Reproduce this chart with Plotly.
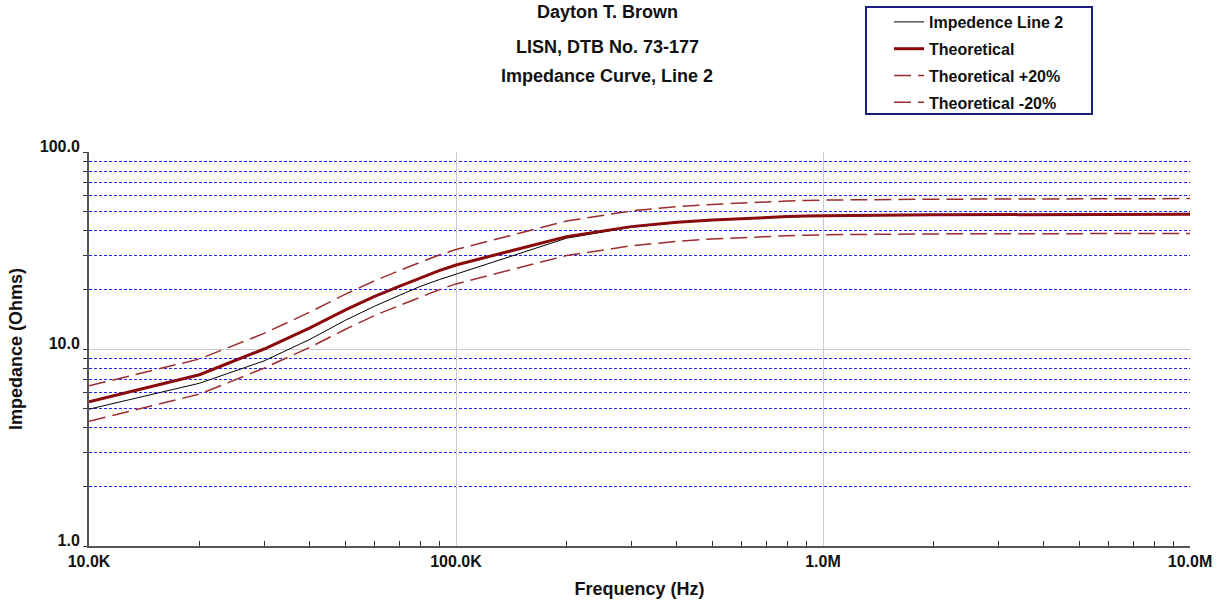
import plotly.graph_objects as go

freq_hz = [1e4, 2e4, 3e4, 4e4, 5e4, 6e4, 7e4, 8e4, 9e4,
           1e5, 2e5, 3e5, 4e5, 5e5, 6e5, 7e5, 8e5, 9e5,
           1e6, 2e6, 3e6, 4e6, 5e6, 6e6, 7e6, 8e6, 9e6, 1e7]

impedance_line2 = [4.95, 6.7, 8.7, 11.2, 14.0, 16.5, 18.7, 20.8, 22.5,
                   24.0, 36.5, 41.5, 43.8, 45.0, 45.8, 46.4, 46.8, 47.1,
                   47.4, 47.8, 48.0, 48.1, 48.2, 48.3, 48.4, 48.5, 48.8, 48.8]

theoretical = [5.4, 7.4, 10.0, 12.8, 15.8, 18.5, 20.8, 23.0, 25.0,
               26.7, 37.2, 41.8, 44.0, 45.2, 46.0, 46.6, 47.0, 47.3,
               47.5, 48.0, 48.1, 48.2, 48.2, 48.3, 48.3, 48.3, 48.3, 48.3]

theoretical_plus20 = [6.5, 8.9, 12.0, 15.4, 19.0, 22.2, 25.0, 27.6, 30.0,
                      32.0, 44.6, 50.2, 52.8, 54.2, 55.2, 55.9, 56.4, 56.8,
                      57.0, 57.6, 57.7, 57.8, 57.8, 58.0, 58.0, 58.0, 58.0, 58.0]

theoretical_minus20 = [4.3, 5.9, 8.0, 10.2, 12.6, 14.8, 16.6, 18.4, 20.0,
                       21.4, 29.8, 33.4, 35.2, 36.2, 36.8, 37.3, 37.6, 37.8,
                       38.0, 38.4, 38.5, 38.6, 38.6, 38.6, 38.6, 38.6, 38.6, 38.6]

x_tickvals = [1e4, 1e5, 1e6, 1e7]
x_ticktext = ["10.0K", "100.0K", "1.0M", "10.0M"]
y_tickvals = [1, 10, 100]
y_ticktext = ["1.0", "10.0", "100.0"]

title_lines = ["Dayton T. Brown", "LISN, DTB No. 73-177", "Impedance Curve, Line 2"]

FONT = "Liberation Sans, Arial, sans-serif"
W, H = 1223, 600
PL, PR, PT, PB = 89, 1190, 152, 546   # plot area in window pixels
L, R, T, B = PL, W - PR, PT, H - PB
pw, ph = PR - PL, PB - PT

def px_x(px):
    return (px - PL) / pw

def px_y(py):
    return (PB - py) / ph

fig = go.Figure()
fig.add_trace(go.Scatter(x=freq_hz, y=impedance_line2, mode="lines", name="<b>Impedence Line 2</b>",
                         legendgroup="a", line=dict(color="#000000", width=1)))
fig.add_trace(go.Scatter(x=freq_hz, y=theoretical, mode="lines", name="<b>Theoretical</b>",
                         legendgroup="b", line=dict(color="#8a0a0a", width=3)))
fig.add_trace(go.Scatter(x=freq_hz, y=theoretical_plus20, mode="lines", name="<b>Theoretical +20%</b>",
                         legendgroup="c", line=dict(color="#9b2d2d", width=1.5, dash="17px,7px")))
fig.add_trace(go.Scatter(x=freq_hz, y=theoretical_minus20, mode="lines", name="<b>Theoretical -20%</b>",
                         legendgroup="d", line=dict(color="#9b2d2d", width=1.5, dash="17px,7px")))

minor_x = [m * 10 ** e for e in (4, 5, 6) for m in range(2, 10)]
minor_y = [m * 10 ** e for e in (0, 1) for m in range(2, 10)]

fig.update_xaxes(type="log", range=[4, 7], tickmode="array", tickvals=x_tickvals,
                 ticktext=["<b>%s</b>" % t for t in x_ticktext],
                 showgrid=True, gridcolor="#cccccc", gridwidth=1,
                 showline=True, linecolor="#555555", linewidth=2,
                 ticks="", tickfont=dict(family=FONT, size=16, color="#111111"),
                 minor=dict(tickvals=minor_x, ticks="inside", ticklen=5, tickcolor="#333333", showgrid=False),
                 title=dict(text="<b>Frequency (Hz)</b>", font=dict(family=FONT, size=18, color="#111111"), standoff=13),
                 zeroline=False, automargin=False)
fig.update_yaxes(type="log", range=[0, 2], tickmode="array", tickvals=y_tickvals,
                 ticktext=["<b>%s</b>" % t for t in y_ticktext],
                 showgrid=True, gridcolor="#cccccc", gridwidth=1,
                 showline=True, linecolor="#555555", linewidth=2,
                 ticks="outside", ticklen=4, tickcolor="#333333", ticklabelshift=-6,
                 tickfont=dict(family=FONT, size=16, color="#111111"),
                 minor=dict(tickvals=minor_y, ticks="outside", ticklen=4, tickcolor="#333333",
                            showgrid=True, gridcolor="#2020ff", griddash="3px,2px", gridwidth=1),
                 title=dict(text="<b>Impedance (Ohms)</b>", font=dict(family=FONT, size=18, color="#111111"), standoff=12),
                 zeroline=False, automargin=False)

annotations = []
for text, cy in zip(title_lines, [12, 47, 76]):
    annotations.append(dict(text="<b>%s</b>" % text, x=px_x(607), y=px_y(cy), xref="paper", yref="paper",
                            xanchor="center", yanchor="middle", showarrow=False,
                            font=dict(family=FONT, size=18, color="#111111")))

fig.update_layout(
    width=W, height=H,
    margin=dict(l=L, r=R, t=T, b=B, autoexpand=False),
    paper_bgcolor="white", plot_bgcolor="white",
    showlegend=True,
    legend=dict(x=px_x(889), y=px_y(5), xanchor="left", yanchor="top",
                bgcolor="rgba(0,0,0,0)", borderwidth=0, traceorder="grouped", tracegroupgap=3,
                font=dict(family=FONT, size=16, color="#111111")),
    annotations=annotations,
    shapes=[dict(type="rect", xref="paper", yref="paper",
                 x0=px_x(866), x1=px_x(1092), y0=px_y(114), y1=px_y(7),
                 line=dict(color="#1c1c80", width=2), fillcolor="rgba(0,0,0,0)")],
)

fig.write_html("out.html", config={"displayModeBar": False},
               post_script="document.body.style.margin='0';")
